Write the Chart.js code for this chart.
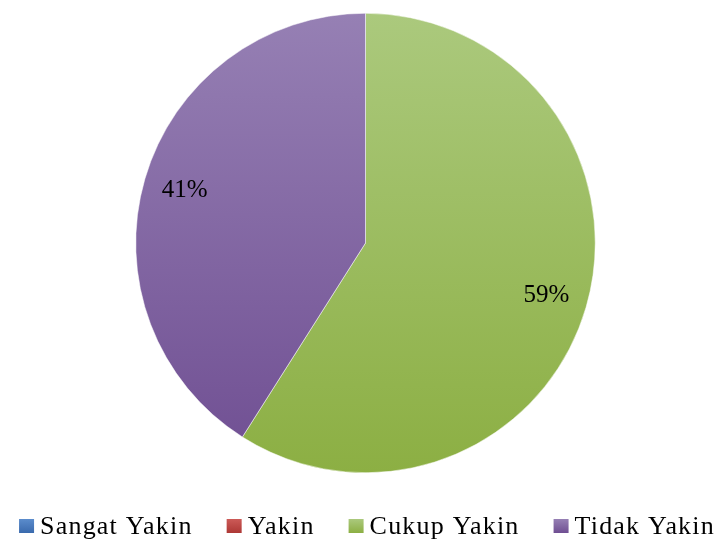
<!DOCTYPE html>
<html>
<head>
<meta charset="utf-8">
<script src="https://cdn.jsdelivr.net/npm/chart.js@4/dist/chart.umd.min.js"></script>
<style>
  html, body { margin: 0; padding: 0; background: #fff; }
  #wrap { width: 726px; height: 539px; }
</style>
</head>
<body>
<div id="wrap"><canvas id="pie"></canvas></div>
<script>
// --- Data ---
const labels = ["Sangat Yakin", "Yakin", "Cukup Yakin", "Tidak Yakin"];
const values = [0, 0, 59, 41];
const colorTop = ["#5b8ccc", "#cc5a57", "#abc97d", "#9680b4"];
const colorBottom = ["#3a6aad", "#ad3835", "#8caf43", "#6f4e92"];

const FONT = "'Liberation Serif', 'Times New Roman', serif";

function sliceFill(ctx) {
  const chart = ctx.chart;
  const area = chart.chartArea;
  if (!area) return colorTop[ctx.dataIndex];
  const g = chart.ctx.createLinearGradient(0, area.top, 0, area.bottom);
  g.addColorStop(0, colorTop[ctx.dataIndex]);
  g.addColorStop(1, colorBottom[ctx.dataIndex]);
  return g;
}

// --- Percent labels inside slices ---
const percentLabels = {
  id: "percentLabels",
  afterDatasetsDraw(chart) {
    const { ctx } = chart;
    const total = values.reduce((a, b) => a + b, 0);
    const arcs = chart.getDatasetMeta(0).data;
    ctx.save();
    ctx.font = "25px " + FONT;
    ctx.fillStyle = "#000";
    ctx.textAlign = "center";
    ctx.textBaseline = "middle";
    arcs.forEach((arc, i) => {
      if (!values[i]) return;
      const mid = (arc.startAngle + arc.endAngle) / 2;
      const r = arc.outerRadius * 0.82;
      const x = arc.x + Math.cos(mid) * r;
      const y = arc.y + Math.sin(mid) * r;
      ctx.fillText(Math.round((values[i] / total) * 100) + "%", x, y);
    });
    ctx.restore();
  }
};

// --- Bottom legend ---
const bottomLegend = {
  id: "bottomLegend",
  afterDraw(chart) {
    const { ctx } = chart;
    const box = 15, gap = 6, spacing = 34;
    ctx.save();
    ctx.font = "26px " + FONT;
    ctx.letterSpacing = "1.2px";
    const widths = labels.map((l) => box + gap + ctx.measureText(l).width);
    const total = widths.reduce((a, b) => a + b, 0) + spacing * (labels.length - 1);
    let x = 367 - total / 2;
    const yMid = 526;
    ctx.textBaseline = "alphabetic";
    labels.forEach((l, i) => {
      const g = ctx.createLinearGradient(0, yMid - 7, 0, yMid + 7);
      g.addColorStop(0, colorTop[i]);
      g.addColorStop(1, colorBottom[i]);
      ctx.fillStyle = g;
      ctx.fillRect(x, yMid - 7, box, 14);
      ctx.fillStyle = "#000";
      ctx.fillText(l, x + box + gap, 534);
      x += widths[i] + spacing;
    });
    ctx.restore();
  }
};

new Chart(document.getElementById("pie"), {
  type: "pie",
  data: {
    labels: labels,
    datasets: [{
      data: values,
      backgroundColor: sliceFill,
      borderColor: "#ffffff",
      borderWidth: 0.5
    }]
  },
  options: {
    responsive: true,
    maintainAspectRatio: false,
    animation: false,
    layout: { padding: { top: 13, bottom: 66, left: 7, right: 2 } },
    plugins: {
      legend: { display: false },
      tooltip: { enabled: false }
    }
  },
  plugins: [percentLabels, bottomLegend]
});
</script>
</body>
</html>
